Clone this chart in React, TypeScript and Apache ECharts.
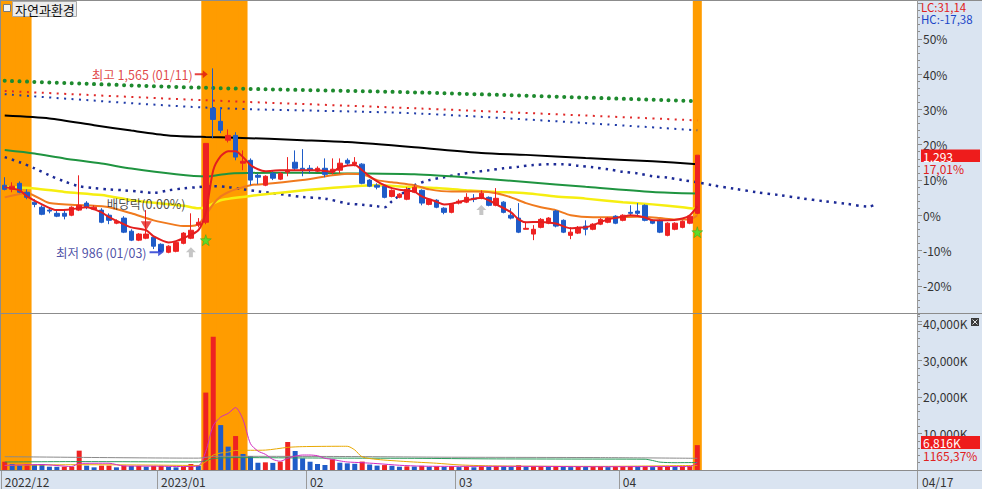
import React, { useEffect, useRef } from 'react';
import * as echarts from 'echarts';

const FONT = "'Noto Sans CJK KR', 'Noto Sans', sans-serif";
const RED = '#ee2222';
const BLUE = '#1f5cc8';
const ORANGE_BAND = '#ff9c00';

const BASE_PRICE = 1105; // 0% reference price
const SLOT_COUNT = 123;
const monthTicks: [number, string][] = [[0, '2022/12'], [21, '2023/01'], [41, '02'], [61, '03'], [83, '04']];
const lastDate = '04/17';
const stockName = '자연과환경';

const opens = [1199, 1186, 1205, 1177, 1146, 1130, 1121, 1111, 1111, 1105, 1121, 1143, 1124, 1121, 1105, 1080, 1096, 1055, 1027, 1033, 1036, 1014, 989, 992, 1017, 1033, 1074, 1083, 1440, 1399, 1340, 1355, 1268, 1277, 1230, 1199, 1236, 1218, 1240, 1271, 1252, 1252, 1243, 1252, 1240, 1246, 1277, 1265, 1265, 1215, 1199, 1196, 1164, 1161, 1155, 1177, 1183, 1139, 1152, 1127, 1114, 1143, 1146, 1158, 1158, 1161, 1136, 1146, 1105, 1096, 1061, 1046, 1067, 1080, 1118, 1089, 1042, 1049, 1071, 1061, 1077, 1083, 1102, 1089, 1114, 1118, 1136, 1089, 1089, 1042, 1061, 1067, 1080, 1111];
const closes = [1186, 1196, 1177, 1161, 1139, 1108, 1118, 1102, 1102, 1130, 1136, 1130, 1130, 1083, 1089, 1086, 1052, 1027, 1046, 1046, 1008, 992, 1008, 1020, 1049, 1058, 1083, 1330, 1405, 1371, 1355, 1287, 1274, 1215, 1224, 1227, 1221, 1236, 1246, 1252, 1246, 1246, 1252, 1233, 1249, 1268, 1268, 1271, 1205, 1196, 1193, 1161, 1183, 1171, 1186, 1193, 1143, 1155, 1130, 1114, 1139, 1149, 1161, 1155, 1174, 1136, 1158, 1114, 1096, 1052, 1064, 1061, 1092, 1096, 1071, 1052, 1052, 1067, 1061, 1077, 1092, 1096, 1080, 1105, 1111, 1111, 1089, 1080, 1052, 1080, 1080, 1086, 1102, 1293];
const lows = [1183, 1177, 1174, 1155, 1130, 1105, 1111, 1099, 1092, 1102, 1118, 1124, 1121, 1080, 1077, 1077, 1049, 1024, 1024, 1030, 999, 989, 986, 989, 1014, 1030, 1067, 1077, 1346, 1362, 1333, 1277, 1246, 1199, 1202, 1196, 1215, 1215, 1227, 1246, 1227, 1236, 1240, 1224, 1233, 1236, 1262, 1258, 1202, 1193, 1186, 1158, 1161, 1158, 1152, 1174, 1136, 1136, 1127, 1108, 1111, 1139, 1143, 1146, 1155, 1133, 1133, 1111, 1092, 1049, 1061, 1027, 1064, 1077, 1067, 1049, 1030, 1046, 1042, 1058, 1074, 1080, 1077, 1086, 1105, 1105, 1086, 1077, 1049, 1039, 1058, 1064, 1077, 1108];
const highs = [1224, 1208, 1211, 1186, 1155, 1136, 1130, 1118, 1121, 1133, 1230, 1149, 1136, 1127, 1111, 1092, 1102, 1061, 1049, 1121, 1039, 1017, 1011, 1024, 1052, 1111, 1096, 1330, 1565, 1443, 1374, 1365, 1308, 1283, 1236, 1230, 1243, 1240, 1287, 1308, 1312, 1262, 1258, 1283, 1283, 1283, 1283, 1287, 1268, 1218, 1205, 1199, 1186, 1174, 1193, 1199, 1186, 1158, 1155, 1130, 1143, 1155, 1174, 1171, 1183, 1164, 1190, 1149, 1127, 1143, 1083, 1074, 1096, 1099, 1121, 1092, 1067, 1071, 1089, 1080, 1096, 1099, 1105, 1108, 1136, 1143, 1139, 1092, 1092, 1083, 1083, 1089, 1105, 1293];
const volumes = [2270, 1640, 1370, 1550, 1370, 1360, 910, 880, 900, 920, 5300, 1190, 730, 1190, 1200, 730, 1190, 1100, 1120, 910, 1100, 1120, 910, 730, 910, 1640, 1190, 21200, 36500, 12300, 6400, 9300, 4380, 3840, 2000, 2100, 1950, 2270, 7670, 5200, 3200, 2270, 1640, 1370, 2920, 2000, 1830, 1700, 2300, 1500, 1200, 1350, 1150, 900, 1000, 950, 1150, 900, 1000, 850, 1050, 800, 950, 750, 1000, 850, 1100, 950, 800, 1300, 900, 1000, 1100, 850, 1050, 950, 800, 900, 850, 950, 1000, 800, 850, 900, 1050, 950, 1100, 800, 900, 1000, 850, 950, 1050, 6816];

// indicator lines: [slot index, value]
const priceMaRed = [[0, 1193], [2, 1183], [3, 1164], [5, 1139], [7, 1121], [9, 1124], [11, 1130], [13, 1114], [14, 1099], [16, 1077], [17, 1067], [19, 1058], [20, 1039], [22, 1020], [23, 1024], [24, 1033], [26, 1058], [27, 1114], [28, 1246], [29, 1290], [30, 1305], [31, 1305], [32, 1287], [33, 1262], [34, 1249], [35, 1243], [37, 1246], [40, 1246], [42, 1246], [44, 1241], [45, 1255], [47, 1262], [48, 1246], [49, 1227], [50, 1211], [51, 1199], [52, 1190], [53, 1185], [55, 1179], [56, 1164], [58, 1147], [59, 1139], [60, 1141], [62, 1152], [64, 1160], [65, 1152], [66, 1139], [68, 1114], [69, 1092], [70, 1083], [72, 1084], [74, 1079], [76, 1064], [77, 1066], [78, 1067], [79, 1074], [81, 1092], [83, 1100], [84, 1105], [86, 1098], [87, 1089], [89, 1089], [91, 1095], [92, 1105], [93, 1133]];
const priceMaOrange = [[0, 1161], [3, 1174], [6, 1143], [11, 1136], [14, 1130], [17, 1111], [20, 1089], [23, 1074], [24, 1071], [25, 1071], [26, 1077], [27, 1105], [28, 1140], [29, 1164], [30, 1177], [31, 1186], [33, 1199], [36, 1205], [40, 1215], [44, 1230], [46, 1235], [48, 1233], [50, 1215], [52, 1208], [55, 1199], [57, 1186], [60, 1179], [64, 1179], [66, 1174], [68, 1161], [70, 1143], [72, 1130], [74, 1121], [76, 1105], [79, 1099], [82, 1099], [85, 1100], [88, 1096], [90, 1092], [92, 1092], [93, 1105]];
const priceMaYellow = [[0, 1194], [4, 1189], [8, 1178], [13, 1168], [17, 1152], [21, 1142], [24, 1135], [26, 1127], [27, 1130], [29, 1152], [34, 1168], [38, 1178], [43, 1189], [47, 1196], [50, 1199], [54, 1194], [58, 1190], [62, 1183], [66, 1178], [70, 1174], [74, 1164], [78, 1157], [83, 1146], [87, 1139], [91, 1130], [93, 1124]];
const priceMaGreen = [[0, 1309], [4, 1298], [8, 1283], [13, 1267], [17, 1251], [23, 1233], [27, 1226], [30, 1235], [36, 1238], [40, 1238], [46, 1236], [55, 1233], [64, 1220], [70, 1209], [78, 1194], [87, 1178], [93, 1173]];
const priceMaBlack = [[0, 1417], [6, 1408], [12, 1387], [17, 1370], [22, 1355], [27, 1350], [31, 1348], [40, 1340], [46, 1334], [55, 1318], [64, 1300], [70, 1294], [78, 1284], [87, 1274], [93, 1265]];
const dotsGreen = [[0, 1526], [27, 1504], [56, 1489], [93, 1462]];
const dotsRed = [[0, 1494], [27, 1465], [56, 1439], [93, 1402]];
const dotsBlue = [[0, 1484], [27, 1442], [56, 1423], [93, 1371]];
const cloudLine = [[0, 1287], [2, 1271], [4, 1252], [6, 1230], [8, 1211], [10, 1196], [12, 1190], [14, 1186], [16, 1183], [18, 1179], [20, 1175], [22, 1183], [24, 1189], [26, 1193], [28, 1196], [30, 1193], [32, 1186], [34, 1180], [36, 1174], [38, 1168], [40, 1162], [43, 1157], [46, 1142], [48, 1138], [50, 1133], [51, 1130], [52, 1149], [54, 1183], [55, 1199], [57, 1215], [59, 1224], [61, 1233], [63, 1240], [65, 1246], [67, 1252], [69, 1257], [71, 1262], [73, 1265], [75, 1265], [77, 1260], [79, 1255], [81, 1249], [83, 1241], [85, 1236], [87, 1227], [89, 1223], [91, 1215], [93, 1208], [95, 1199], [98, 1188], [101, 1177], [104, 1168], [107, 1158], [110, 1149], [113, 1141], [116, 1132], [117, 1139]];

const volMaMagenta = [[0, 1250], [5, 1500], [9, 950], [10, 1800], [14, 1850], [16, 1100], [20, 1050], [24, 950], [26, 1100], [27, 5100], [28, 12200], [29, 14500], [30, 15500], [31, 17100], [32, 13800], [33, 7200], [34, 5200], [35, 4300], [36, 2900], [37, 2400], [38, 3200], [39, 3800], [40, 4100], [41, 4100], [42, 3900], [43, 3200], [44, 2900], [45, 2500], [46, 2200], [48, 2000], [50, 1750], [53, 1300], [56, 1050], [60, 1000], [70, 1000], [80, 900], [90, 950], [92, 950], [93, 2100]];
const volMaGold = [[0, 1250], [10, 1450], [20, 1350], [26, 1250], [27, 2300], [28, 4100], [29, 4650], [30, 4900], [31, 5350], [35, 5450], [38, 6200], [40, 6400], [45, 6500], [46, 6500], [47, 5500], [48, 3600], [50, 2900], [54, 2300], [58, 1850], [61, 1400], [65, 1150], [70, 1050], [80, 1000], [93, 1250]];
const volMaGreen = [[0, 2200], [10, 2300], [26, 2200], [27, 2550], [28, 3150], [31, 3400], [40, 3300], [46, 3250], [55, 3200], [65, 3050], [75, 3000], [86, 2950], [87, 2600], [88, 2150], [90, 2000], [93, 2050]];
const volMaGray = [[0, 3650], [26, 3250], [27, 3450], [28, 3750], [45, 3700], [60, 3500], [80, 3400], [93, 3200]];

const highlightSlots = [0, 1, 2, 3, 27, 28, 29, 30, 31, 32, 93];
const highMark = { index: 28, price: 1565, label: '최고 1,565 (01/11)' };
const lowMark = { index: 22, price: 986, label: '최저 986 (01/03)' };
const exDividend = { index: 19, price: 1072, label: '배당락(0.00%)' };
const upSignals = [[25, 989], [64, 1121]];
const starSignals = [[27, 1027], [93, 1052]];

const infoLC = 'LC:31,14';
const infoHC = 'HC:-17,38';
const lastPriceText = '1,293';
const lastPricePct = '17,01%';
const lastVolText = '6,816K';
const lastVolPct = '1165,37%';

const categories = Array.from({ length: SLOT_COUNT }, (_, i) => String(i));
const monthMap = new Map<number, string>(monthTicks);

const ARROW_RIGHT = 'path://M0,3L8,3L8,0L13,4L8,8L8,5L0,5Z';
const ARROW_UP = 'path://M5,0L10,5L7,5L7,10L3,10L3,5L0,5Z';
const STAR = 'path://M5,0L6.2,3.5L10,3.6L7,5.9L8.1,9.5L5,7.4L1.9,9.5L3,5.9L0,3.6L3.8,3.5Z';

function dotted(name: string, data: number[][], color: string, width: number, dash: number[], cap: string) {
  return {
    name, type: 'line', xAxisIndex: 0, yAxisIndex: 0, data, symbol: 'none', silent: true, z: 3,
    smooth: 0.3,
    lineStyle: { color, width, type: dash, cap },
  };
}
function solid(name: string, data: number[][], color: string, width: number, axis = 0, z = 4) {
  return {
    name, type: 'line', xAxisIndex: axis, yAxisIndex: axis, data, symbol: 'none', silent: true, z,
    smooth: 0.25,
    lineStyle: { color, width },
  };
}

export default function App() {
  const ref = useRef<HTMLDivElement>(null);
  useEffect(() => {
    document.body.style.margin = '0';
    if (!ref.current) return;
    const chart = echarts.init(ref.current, undefined, { renderer: 'svg' });
    const step = BASE_PRICE / 10;
    const candleData = opens.map((o, i) => [o, closes[i], lows[i], highs[i]]);
    const volData = volumes.map((v, i) => ({
      value: v,
      itemStyle: { color: i === 0 || v >= volumes[i - 1] ? RED : BLUE },
    }));
    const bandData = categories.map((_, i) => (highlightSlots.includes(i) ? 1 : '-'));
    const axisLabelStyle = { color: '#333', fontSize: 12, fontFamily: FONT, lineHeight: 12 };

    const annotations: any[] = [
      {
        value: [highMark.index, highMark.price], symbol: ARROW_RIGHT, symbolSize: [13, 8], symbolOffset: [-12, 6],
        itemStyle: { color: '#e01414' },
        label: { show: true, position: 'left', distance: 2, formatter: highMark.label, color: '#d81414', fontSize: 12.5, fontFamily: FONT },
      },
      {
        value: [lowMark.index, lowMark.price], symbol: ARROW_RIGHT, symbolSize: [14, 8], symbolOffset: [-12, -1],
        itemStyle: { color: '#1a2fd0' },
        label: { show: true, position: 'left', distance: 3, formatter: lowMark.label, color: '#1c2590', fontSize: 12.5, fontFamily: FONT },
      },
      {
        value: [exDividend.index, exDividend.price], symbol: 'triangle', symbolRotate: 180, symbolSize: [11, 9],
        itemStyle: { color: '#e41e1e' },
        label: { show: true, position: 'top', distance: 12, formatter: exDividend.label, color: '#222', fontSize: 12.5, fontFamily: FONT },
      },
      ...upSignals.map((p) => ({ value: p, symbol: ARROW_UP, symbolSize: [10, 10], itemStyle: { color: '#b8b8b8' } })),
      ...starSignals.map((p) => ({ value: p, symbol: STAR, symbolSize: [11, 11], itemStyle: { color: '#36e836', borderColor: '#1f9f1f', borderWidth: 0.5 } })),
    ];

    const txt = (text: string, x: number, y: number, fill: string, size = 12) => ({
      type: 'text', x, y, z: 101,
      style: { text, fill, fontSize: size, fontFamily: FONT, lineHeight: size, verticalAlign: 'top', textVerticalAlign: 'top' },
    });
    const ln = (x1: number, y1: number, x2: number, y2: number, stroke = '#8c8c8c') => ({
      type: 'line', z: 100, shape: { x1, y1, x2, y2 }, style: { stroke, lineWidth: 1 },
    });

    chart.setOption({
      animation: false,
      backgroundColor: '#dae4f1',
      grid: [
        { left: 1, right: 65, top: 3.5, bottom: 167.9 },
        { left: 1, right: 65, top: 313, bottom: 19 },
        { left: 1, right: 65, top: 1, bottom: 19, show: true, backgroundColor: '#ffffff', borderWidth: 0 },
      ],
      xAxis: [
        { type: 'category', gridIndex: 0, data: categories, show: false },
        {
          type: 'category', gridIndex: 1, data: categories,
          axisLine: { show: true, lineStyle: { color: '#8c8c8c' } },
          axisTick: { show: true, interval: (i: number) => monthMap.has(i), length: 19, lineStyle: { color: '#9a9a9a' } },
          axisLabel: {
            ...axisLabelStyle, interval: (i: number) => monthMap.has(i), align: 'left', margin: 5,
            formatter: (_v: string, i: number) => monthMap.get(i) ?? '',
          },
        },
        { type: 'category', gridIndex: 2, data: categories, show: false },
      ],
      yAxis: [
        {
          type: 'value', gridIndex: 0, position: 'right', min: BASE_PRICE - 3 * step, max: BASE_PRICE + 6 * step, interval: step,
          splitLine: { show: false },
          axisLine: { show: true, lineStyle: { color: '#9a9a9a' } },
          axisTick: { show: true, length: 5, lineStyle: { color: '#8c8c8c' } },
          minorTick: { show: true, splitNumber: 5, length: 3, lineStyle: { color: '#8c8c8c' } },
          axisLabel: {
            ...axisLabelStyle, margin: 6, showMinLabel: false, showMaxLabel: false,
            formatter: (v: number) => Math.round((v / BASE_PRICE - 1) * 100) + '%',
          },
        },
        {
          type: 'value', gridIndex: 1, position: 'right', min: 0, max: 43000, interval: 10000,
          splitLine: { show: false },
          axisLine: { show: true, lineStyle: { color: '#9a9a9a' } },
          axisTick: { show: true, length: 5, lineStyle: { color: '#8c8c8c' } },
          minorTick: { show: true, splitNumber: 5, length: 3, lineStyle: { color: '#8c8c8c' } },
          axisLabel: {
            ...axisLabelStyle, margin: 6, showMinLabel: false, showMaxLabel: false,
            formatter: (v: number) => v.toLocaleString('en-US') + 'K',
          },
        },
        { type: 'value', gridIndex: 2, show: false, min: 0, max: 1 },
      ],
      series: [
        {
          name: 'bands', type: 'bar', xAxisIndex: 2, yAxisIndex: 2, data: bandData, barWidth: 9,
          itemStyle: { color: ORANGE_BAND }, silent: true, z: 1,
        },
        dotted('dotsGreen', dotsGreen, '#1e8a2e', 4, [0.01, 7.45], 'round'),
        dotted('dotsRed', dotsRed, '#e02828', 2, [2, 5.45], 'butt'),
        dotted('dotsBlue', dotsBlue, '#1e3aa8', 2, [2, 5.45], 'butt'),
        dotted('cloud', cloudLine, '#1c2a96', 2.5, [2.5, 4.95], 'butt'),
        solid('black', priceMaBlack, '#000000', 2),
        solid('green', priceMaGreen, '#1f9440', 2),
        solid('yellow', priceMaYellow, '#f6ee10', 2.5),
        solid('orange', priceMaOrange, '#f07a1e', 2),
        {
          name: 'candles', type: 'candlestick', xAxisIndex: 0, yAxisIndex: 0, data: candleData, barWidth: 5, z: 5,
          itemStyle: { color: RED, color0: BLUE, borderColor: RED, borderColor0: BLUE, borderWidth: 1 },
        },
        solid('red', priceMaRed, '#e41e1e', 2, 0, 6),
        {
          name: 'annotations', type: 'scatter', xAxisIndex: 0, yAxisIndex: 0, data: annotations, z: 7, silent: true,
        },
        {
          name: 'volume', type: 'bar', xAxisIndex: 1, yAxisIndex: 1, data: volData, barWidth: 5, z: 3,
        },
        solid('volGray', volMaGray, '#8a8a8a', 1, 1, 4),
        solid('volGreen', volMaGreen, '#2a9a5a', 1, 1, 4),
        solid('volGold', volMaGold, '#e8a800', 1, 1, 4),
        solid('volMagenta', volMaMagenta, '#d02cc0', 1, 1, 4),
      ],
      graphic: [
        ln(0.5, 0, 0.5, 470),
        ln(0, 0.5, 982, 0.5),
        ln(917.5, 0, 917.5, 489, '#9a9a9a'),
        ln(0, 313.5, 982, 313.5),
        ln(0, 470.5, 982, 470.5),
        { type: 'rect', z: 100, shape: { x: 3.5, y: 4.5, width: 7, height: 7 }, style: { fill: '#f4f4f4', stroke: '#7a7a7a', lineWidth: 1 } },
        { type: 'rect', z: 100, shape: { x: 12.5, y: 1.5, width: 64, height: 15 }, style: { fill: '#ececec', stroke: '#a8a8a8', lineWidth: 1 } },
        txt(stockName, 15, 2.5, '#111', 13),
        txt(infoLC, 921, 1.5, '#e02020', 11.5),
        txt(infoHC, 921, 13.5, '#1a46c8', 11.5),
        { type: 'rect', z: 100, shape: { x: 921, y: 149.5, width: 59, height: 12.5 }, style: { fill: '#ee1c1c' } },
        txt(lastPriceText, 923, 150, '#ffffff'),
        txt(lastPricePct, 923, 162, '#e02020'),
        { type: 'rect', z: 100, shape: { x: 921, y: 436, width: 59, height: 13 }, style: { fill: '#ee1c1c' } },
        txt(lastVolText, 923, 436.5, '#ffffff'),
        txt(lastVolPct, 923, 449.5, '#e02020'),
        { type: 'rect', z: 100, shape: { x: 971, y: 318, width: 8, height: 8 }, style: { fill: '#3a3a3a' } },
        ln(972.5, 319.5, 977.5, 324.5, '#e0e0e0'),
        ln(977.5, 319.5, 972.5, 324.5, '#e0e0e0'),
        txt(lastDate, 922, 475, '#333'),
      ],
    });
    return () => chart.dispose();
  }, []);
  return <div ref={ref} style={{ width: 982, height: 489 }} />;
}
